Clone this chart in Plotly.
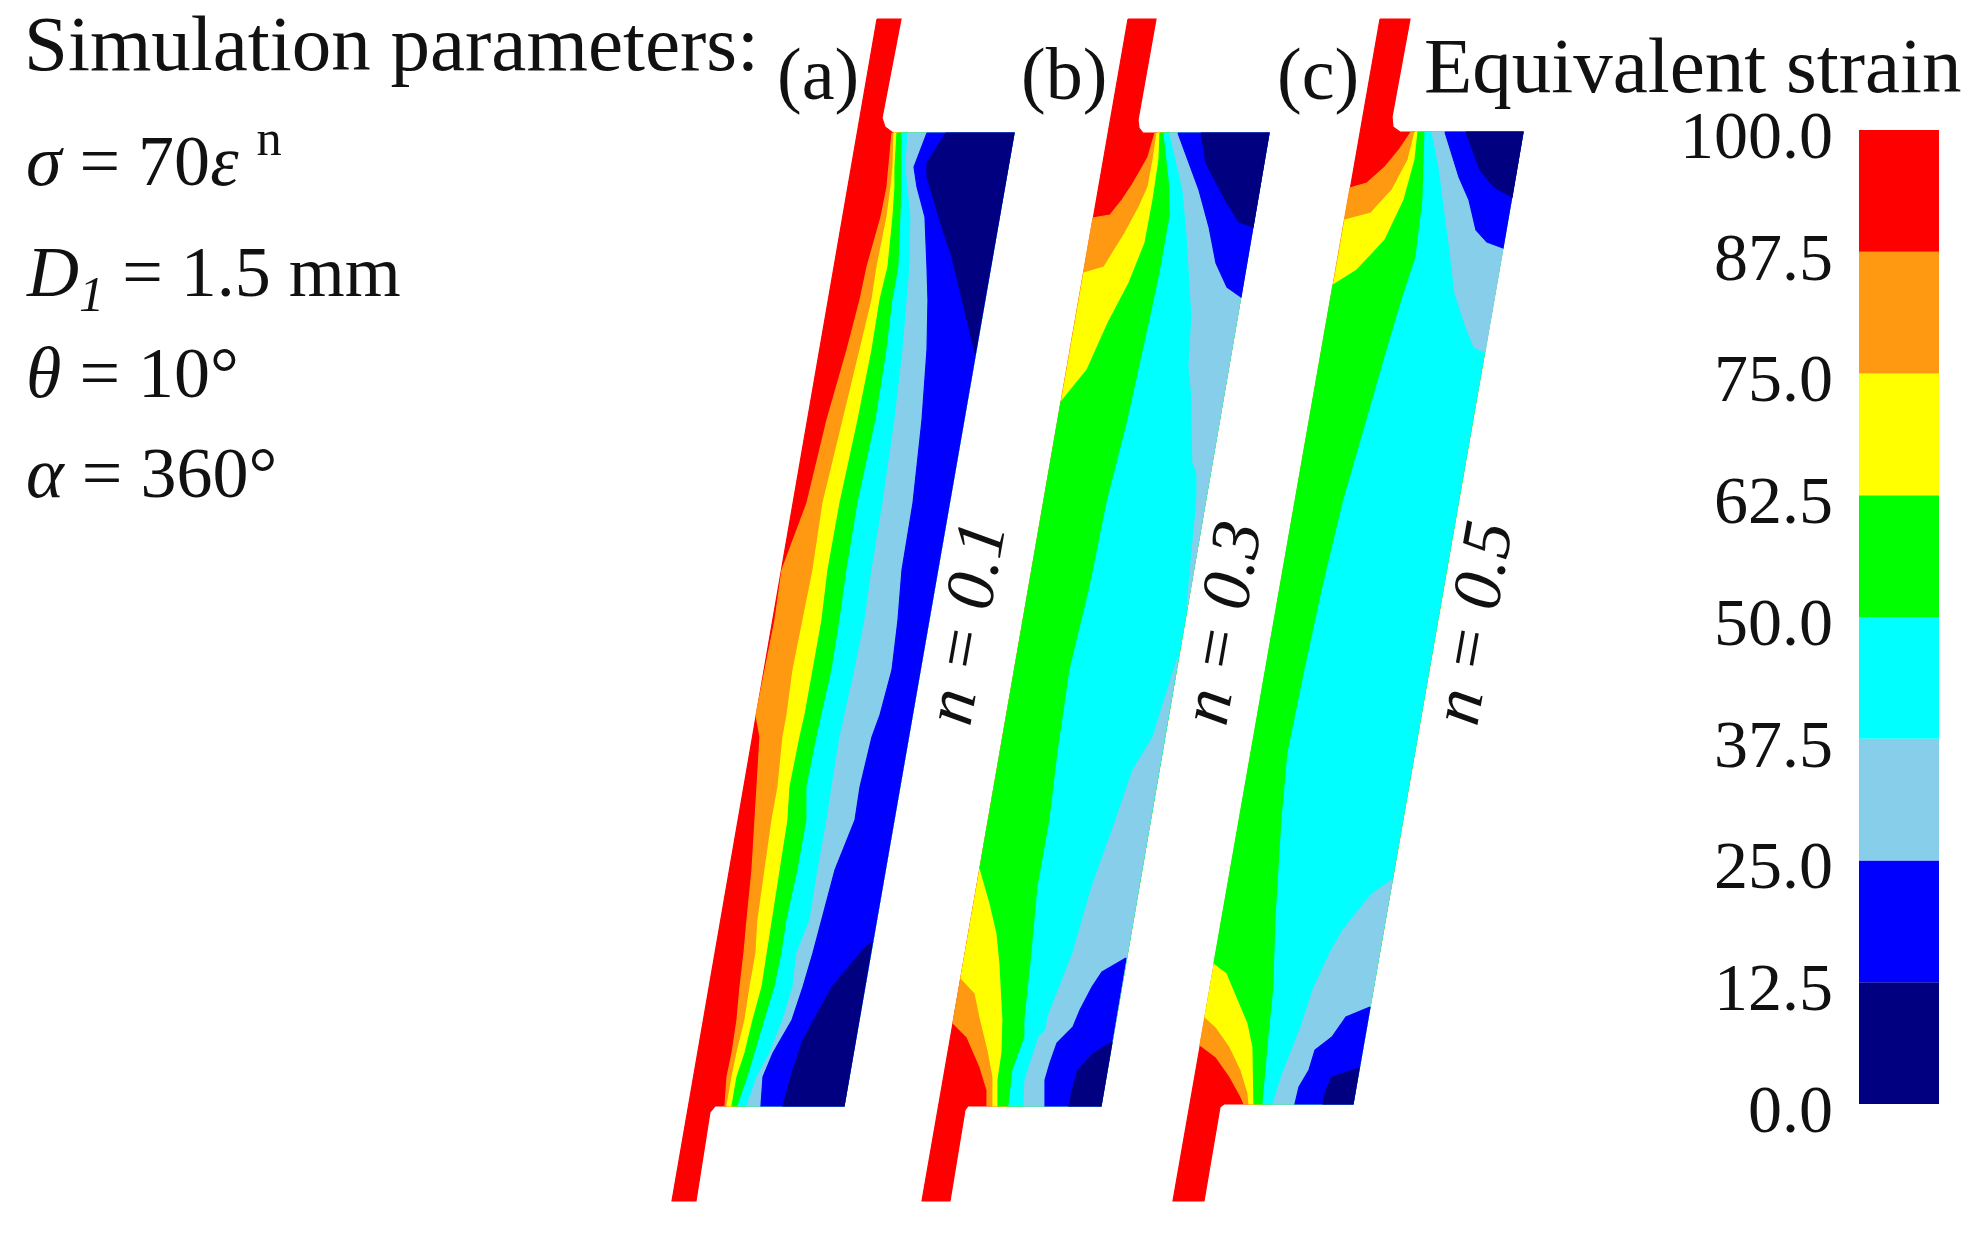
import plotly.graph_objects as go

LEVELS = [0.0, 12.5, 25.0, 37.5, 50.0, 62.5, 75.0, 87.5, 100.0]
BAND_COLORS = ["#000080", "#0000FF", "#87CEEB", "#00FFFF", "#00FF00", "#FFFF00", "#FF9912", "#FF0000"]
PANEL_LABELS = ["(a)", "(b)", "(c)"]
N_LABELS = ["n = 0.1", "n = 0.3", "n = 0.5"]

# ---- Panel (a): specimen outline and contour lines
A_OUT = [(877,19),(901,19),(882,118),(885,127),(893,133),(1014,133),(844,1106),(715,1106),(710,1112),(696,1201),(672,1201)]
A_TR = (1014,133)
A_BR = (844,1106)
A_ORANGE = [(892,133),(889,167),(887,187),(881,217),(867,267),(860,300),(847,350),(827,420),(807,503),(782,570),(775,620),(765,670),(756,715),(760,737),(757,787),(755,820),(752,870),(747,920),(744,953),(740,987),(737,1020),(732,1053),(727,1077),(725,1106)]
A_YELLOW = [(894,133),(893,167),(891,187),(887,217),(877,267),(872,300),(860,350),(843,420),(823,503),(813,570),(803,620),(793,670),(787,715),(783,737),(778,787),(772,820),(765,870),(758,920),(756,953),(750,987),(745,1020),(737,1053),(732,1077),(727,1106)]
A_GREEN = [(897,133),(895,167),(895,187),(893,217),(888,267),(880,300),(872,350),(858,420),(840,503),(828,570),(822,620),(813,670),(805,715),(800,737),(790,787),(788,820),(780,870),(772,920),(767,953),(762,987),(753,1020),(745,1053),(737,1077),(732,1106)]
A_CYAN = [(902,133),(902,187),(901,217),(899,267),(893,300),(887,350),(876,420),(858,503),(847,570),(840,620),(832,670),(822,715),(817,737),(807,787),(807,820),(798,870),(787,920),(782,953),(775,987),(765,1020),(755,1053),(748,1077),(738,1106)]
A_LBLUE = [(908,133),(906,167),(908,187),(911,217),(910,267),(907,300),(903,350),(895,420),(883,503),(872,570),(865,620),(855,670),(845,715),(840,737),(832,787),(827,820),(818,870),(810,920),(797,953),(793,987),(783,1020),(770,1053),(757,1077),(747,1106)]
A_BLUE = [(927,133),(914,167),(917,187),(925,217),(927,267),(928,300),(927,350),(922,420),(913,503),(902,570),(898,620),(892,670),(880,715),(872,737),(860,787),(855,820),(835,870),(822,920),(813,953),(803,987),(792,1020),(773,1053),(763,1077),(761,1106)]
A_NAVY_TOP = [(946,133),(927,163),(927,177),(943,230),(952,257),(975,353)]
A_NAVY_BOT = [(872,942),(863,950),(832,987),(803,1040),(793,1070),(783,1106)]

# ---- Panel (b)
B_OUT = [(1128,19),(1156,19),(1138,120),(1139,128),(1143,133),(1269,133),(1101,1106),(968,1106),(965,1110),(950,1201),(922,1201)]
B_TR = (1269,133)
B_BR = (1101,1106)
B_RO_T = [(1155,133),(1148,157),(1139,173),(1132,185),(1122,200),(1110,215),(1093,218)]
B_RO_B = [(953,1023),(967,1037),(980,1067),(987,1090),(987,1106)]
B_OY_T = [(1157,133),(1153,160),(1148,187),(1139,207),(1125,233),(1104,267),(1084,273)]
B_OY_B = [(961,978),(975,993),(980,1017),(988,1050),(993,1077),(993,1106)]
B_YG_T = [(1160,133),(1159,160),(1153,200),(1145,243),(1129,283),(1108,323),(1087,370),(1061,402)]
B_YG_B = [(980,868),(990,903),(997,933),(1000,963),(1003,1020),(1002,1053),(998,1080),(998,1106)]
B_GC = [(1164,133),(1170,187),(1170,217),(1160,273),(1150,320),(1139,370),(1128,420),(1107,503),(1090,587),(1070,670),(1058,753),(1050,820),(1038,887),(1032,953),(1025,1020),(1025,1037),(1013,1070),(1009,1106)]
B_CL_T = [(1170,133),(1176,160),(1183,190),(1187,233),(1192,317),(1189,367),(1192,397),(1192,420),(1193,463),(1197,473),(1197,497),(1195,520),(1187,607)]
B_CL_B = [(1178,657),(1153,737),(1133,770),(1116,820),(1092,887),(1073,953),(1048,1017),(1046,1030),(1039,1037),(1025,1080),(1024,1106)]
B_LB_T = [(1178,133),(1199,190),(1209,227),(1216,263),(1227,287),(1241,297)]
B_LB_B = [(1126,958),(1102,972),(1092,987),(1080,1010),(1073,1027),(1057,1043),(1050,1063),(1045,1080),(1045,1106)]
B_NV_T = [(1201,133),(1206,163),(1227,203),(1239,222),(1253,227)]
B_NV_B = [(1112,1042),(1094,1053),(1078,1070),(1073,1087),(1069,1106)]

# ---- Panel (c)
C_OUT = [(1380,19),(1410,19),(1392,117),(1393,127),(1400,132),(1523,132),(1353,1104),(1224,1104),(1220,1107),(1204,1201),(1173,1201)]
C_TR = (1523,132)
C_BR = (1353,1104)
C_RO_T = [(1411,132),(1399,150),(1385,167),(1367,183),(1350,188)]
C_RO_B = [(1200,1045),(1216,1057),(1230,1077),(1241,1097),(1244,1104)]
C_OY_T = [(1415,132),(1408,160),(1392,190),(1371,213),(1345,220)]
C_OY_B = [(1205,1017),(1216,1027),(1230,1047),(1241,1070),(1248,1093),(1249,1104)]
C_YG_T = [(1418,132),(1415,160),(1404,200),(1385,240),(1357,270),(1333,285)]
C_YG_B = [(1214,963),(1227,973),(1237,997),(1248,1023),(1253,1047),(1254,1104)]
C_GC = [(1425,132),(1423,200),(1416,257),(1402,300),(1388,347),(1367,420),(1343,503),(1323,587),(1305,670),(1288,753),(1282,820),(1276,920),(1274,987),(1269,1037),(1263,1104)]
C_CL_T = [(1432,132),(1439,167),(1450,250),(1455,293),(1466,327),(1474,347),(1485,352)]
C_CL_B = [(1392,880),(1371,895),(1343,930),(1330,953),(1313,990),(1301,1027),(1283,1073),(1273,1104)]
C_LB_T = [(1445,132),(1459,177),(1469,200),(1476,230),(1487,242),(1503,248)]
C_LB_B = [(1370,1007),(1346,1017),(1332,1037),(1315,1050),(1309,1070),(1299,1087),(1295,1104)]
C_NV_T = [(1466,132),(1480,170),(1494,187),(1512,197)]
C_NV_B = [(1359,1068),(1332,1077),(1325,1093),(1323,1104)]

RED, ORANGE, YELLOW, GREEN, CYAN, LBLUE, BLUE, NAVY = reversed(BAND_COLORS)

PANELS = [
    (RED,    [A_OUT, B_OUT, C_OUT]),
    (ORANGE, [A_ORANGE + [A_BR, A_TR], B_RO_T + B_RO_B + [B_BR, B_TR], C_RO_T + C_RO_B + [C_BR, C_TR]]),
    (YELLOW, [A_YELLOW + [A_BR, A_TR], B_OY_T + B_OY_B + [B_BR, B_TR], C_OY_T + C_OY_B + [C_BR, C_TR]]),
    (GREEN,  [A_GREEN + [A_BR, A_TR], B_YG_T + B_YG_B + [B_BR, B_TR], C_YG_T + C_YG_B + [C_BR, C_TR]]),
    (CYAN,   [A_CYAN + [A_BR, A_TR], B_GC + [B_BR, B_TR], C_GC + [C_BR, C_TR]]),
    (LBLUE,  [A_LBLUE + [A_BR, A_TR], B_CL_T + [B_TR], B_CL_B + [B_BR], C_CL_T + [C_TR], C_CL_B + [C_BR]]),
    (BLUE,   [A_BLUE + [A_BR, A_TR], B_LB_T + [B_TR], B_LB_B + [B_BR], C_LB_T + [C_TR], C_LB_B + [C_BR]]),
    (NAVY,   [A_NAVY_TOP + [A_TR], A_NAVY_BOT + [A_BR], B_NV_T + [B_TR], B_NV_B + [B_BR], C_NV_T + [C_TR], C_NV_B + [C_BR]]),
]

W, H = 1972, 1233
fig = go.Figure()
for color, polys in PANELS:
    xs, ys = [], []
    for poly in polys:
        xs += [p[0] for p in poly] + [poly[0][0], None]
        ys += [p[1] for p in poly] + [poly[0][1], None]
    fig.add_trace(go.Scatter(x=xs, y=ys, mode="lines", fill="toself", fillcolor=color,
                             line=dict(color=color, width=1.2), hoverinfo="skip", showlegend=False))

# Legend scale
fig.add_trace(go.Bar(x=[0] * 8, y=[12.5] * 8, base=LEVELS[:-1], width=1, marker=dict(color=BAND_COLORS, line_width=0),
                     xaxis="x2", yaxis="y2", hoverinfo="skip", showlegend=False))

SERIF = "Liberation Serif"
ann = []
def text(x, y, s, size, anchor="left", angle=0):
    ann.append(dict(x=x, y=y, xref="x", yref="y", text=s, showarrow=False, xanchor=anchor, yanchor="middle",
                    textangle=angle, font=dict(family=SERIF, size=size, color="#111111")))

text(22, 43, "Simulation parameters:", 79)
text(24, 155, "<i>σ</i> = 70<i>ε</i> <sup>n</sup>", 72)
text(24, 277, "<i>D<sub>1</sub></i> = 1.5 mm", 72)
text(24, 373, "<i>θ</i> = 10°", 72)
text(24, 473, "<i>α</i> = 360°", 72)
for x, s in zip([818, 1064, 1318], PANEL_LABELS):
    text(x, 74, s, 74, "center")
for x, s in zip([964, 1220, 1471], N_LABELS):
    text(x, 623, "<i>%s</i>" % s, 70, "center", -80)
text(1964, 65, "Equivalent strain", 79, "right")

fig.update_layout(
    width=W, height=H, margin=dict(l=0, r=0, t=0, b=0, autoexpand=False),
    paper_bgcolor="white", plot_bgcolor="white", barmode="overlay", annotations=ann,
    xaxis=dict(range=[0, W], domain=[0, 1], visible=False, fixedrange=True),
    yaxis=dict(range=[H, 0], domain=[0, 1], visible=False, fixedrange=True),
    xaxis2=dict(domain=[1859 / W, 1939 / W], range=[-0.5, 0.5], visible=False, anchor="y2"),
    yaxis2=dict(domain=[(H - 1104) / H, (H - 130) / H], range=[0, 100], anchor="x2", side="left",
                tickvals=LEVELS, ticktext=["%.1f" % v for v in LEVELS], showgrid=False, zeroline=False,
                showline=False, ticks="", ticklabelstandoff=25, ticklabelshift=4,
                tickfont=dict(family=SERIF, size=68, color="#111111")),
)
fig.write_html("out.html", config=dict(displayModeBar=False), post_script="document.body.style.margin='0';")
